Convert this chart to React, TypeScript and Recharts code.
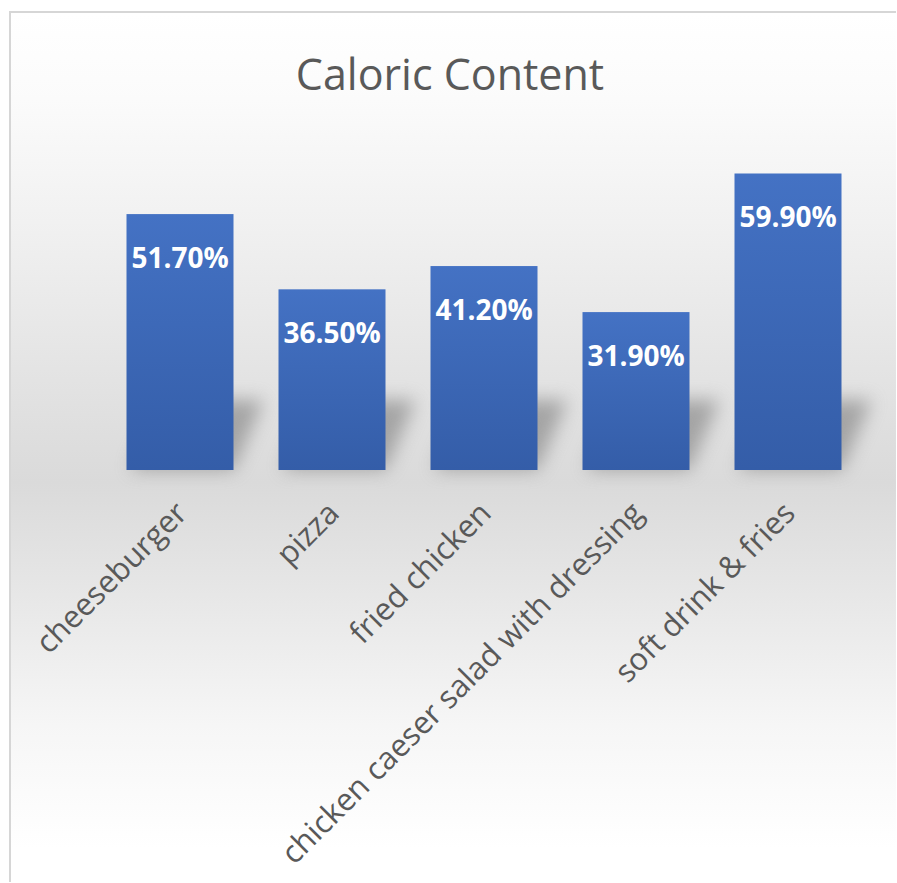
import { BarChart, Bar, XAxis, YAxis, LabelList } from "recharts";

const categories = [
  "cheeseburger",
  "pizza",
  "fried chicken",
  "chicken caeser salad with dressing",
  "soft drink & fries",
];
const caloricShare = [51.7, 36.5, 41.2, 31.9, 59.9];

const data = categories.map((name, i) => ({ name, value: caloricShare[i] }));

const FONT = "'Open Sans', 'Noto Sans', sans-serif";

// Bar with a soft perspective shadow falling back to the right
function ShadowBar(props: any) {
  const { x, y, width, height } = props;
  const b = y + height;
  const pts = `${x + 4},${b} ${x + width},${b} ${x + width + 30},${b - 70} ${x + 34},${b - 70}`;
  return (
    <g>
      <polygon points={pts} fill="#7d7d7d" opacity={0.6} filter="url(#blur)" />
      <rect x={x} y={y} width={width} height={height} fill="url(#barFill)" />
    </g>
  );
}

function AngledTick(props: any) {
  const { x, y, payload } = props;
  const px = x + 9;
  const py = y + 45;
  return (
    <text
      x={px}
      y={py}
      transform={`rotate(-45, ${px}, ${py})`}
      textAnchor="end"
      fill="#595959"
      fontSize={31}
      fontFamily={FONT}
    >
      {payload.value}
    </text>
  );
}

export default function App() {
  return (
    <div style={{ position: "absolute", left: 0, top: 0, width: 897, height: 883, background: "#fff" }}>
      <div
        style={{
          position: "absolute",
          left: 9,
          top: 11,
          width: 887,
          height: 871,
          boxSizing: "border-box",
          borderLeft: "2px solid #d6d6d6",
          borderTop: "2px solid #d6d6d6",
          background:
            "linear-gradient(to bottom, #ffffff 0%, #fbfbfb 10%, #f1f1f1 24%, #dadada 54%, #e6e6e6 66%, #f6f6f6 82%, #ffffff 96%)",
        }}
      />
      <div
        style={{
          position: "absolute",
          left: 0,
          top: 49,
          width: 900,
          textAlign: "center",
          fontFamily: FONT,
          fontSize: 43,
          color: "#595959",
          lineHeight: "50px",
        }}
      >
        Caloric Content
      </div>
      <div style={{ position: "absolute", left: 9, top: 11 }}>
        <BarChart
          width={887}
          height={871}
          data={data}
          margin={{ top: 162, right: 32, left: 95, bottom: 0 }}
          barCategoryGap={22.5}
        >
          <defs>
            <linearGradient id="barFill" x1="0" y1="0" x2="0" y2="1">
              <stop offset="0%" stopColor="#4472C4" />
              <stop offset="100%" stopColor="#345DA8" />
            </linearGradient>
            <filter id="blur" x="-40%" y="-40%" width="180%" height="180%">
              <feGaussianBlur stdDeviation="9" />
            </filter>
          </defs>
          <XAxis
            dataKey="name"
            height={412}
            axisLine={false}
            tickLine={false}
            tickSize={0}
            tickMargin={0}
            interval={0}
            tick={<AngledTick />}
          />
          <YAxis hide domain={[0, 60]} />
          <Bar dataKey="value" shape={<ShadowBar />} isAnimationActive={false}>
            <LabelList
              dataKey="value"
              position="insideTop"
              offset={0}
              content={(p: any) => (
                <text
                  x={p.x + p.width / 2}
                  y={p.y + 54}
                  textAnchor="middle"
                  fill="#ffffff"
                  fontSize={28}
                  fontWeight={700}
                  fontFamily={FONT}
                >
                  {`${Number(p.value).toFixed(2)}%`}
                </text>
              )}
            />
          </Bar>
        </BarChart>
      </div>
    </div>
  );
}
